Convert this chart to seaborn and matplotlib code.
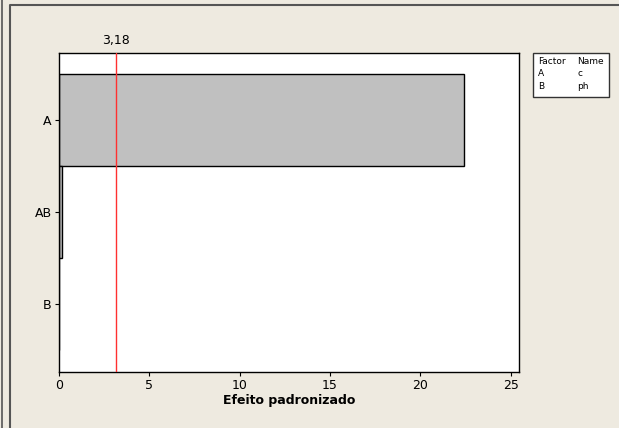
import matplotlib
matplotlib.use("Agg")
import matplotlib.pyplot as plt
import seaborn as sns
import pandas as pd
from matplotlib.lines import Line2D
from matplotlib.patches import Rectangle

# Standardized effects (Pareto chart)
terms = ["A", "AB", "B"]
effects = [22.4, 0.18, 0.02]
critical_value = 3.18
factor_codes = ["A", "B"]
factor_names = ["c", "ph"]

df = pd.DataFrame({"Termo": terms, "Efeito": effects})

sns.set_theme(style="white")
plt.rcParams["font.family"] = ["DejaVu Sans"]

bg = "#EEEAE0"
W, H = 619, 428
fig = plt.figure(figsize=(W / 100, H / 100), dpi=100, facecolor=bg)
ax = fig.add_axes([58.7 / W, 1 - 371.7 / H, (519 - 58.7) / W, (371.7 - 52.7) / H])
ax.set_facecolor("white")

sns.barplot(data=df, x="Efeito", y="Termo", order=terms, orient="h",
            color="#C0C0C0", saturation=1, width=1.0,
            edgecolor="black", linewidth=1.0, ax=ax)

ax.set_xlim(0, 25.45)
ax.set_ylim(2.73, -0.73)
ax.set_xticks([0, 5, 10, 15, 20, 25])
ax.set_xlabel("Efeito padronizado", fontsize=9, fontweight="bold", color="black", labelpad=2)
ax.set_ylabel("")
ax.tick_params(axis="both", labelsize=9, colors="black", length=3, width=0.8,
               direction="out", pad=2, bottom=True, left=True)

for side in ["left", "bottom", "top", "right"]:
    ax.spines[side].set_visible(True)
    ax.spines[side].set_color("black")
    ax.spines[side].set_linewidth(1.0)

# critical t-value reference line
ax.axvline(critical_value, color="#FF3030", linewidth=1.0, zorder=3)
ax.text(critical_value, 1.018, f"{critical_value:.2f}".replace(".", ","),
        transform=ax.get_xaxis_transform(), ha="center", va="bottom",
        fontsize=9, color="black")

# factor key box
fig.add_artist(Rectangle((533 / W, 1 - 97 / H), (609 - 533) / W, (97 - 53) / H,
                         transform=fig.transFigure, facecolor="white",
                         edgecolor="#333333", linewidth=1.0))
rows = [("Factor", "Name")] + list(zip(factor_codes, factor_names))
for i, (code, name) in enumerate(rows):
    y = 1 - (61.5 + 12.3 * i) / H
    fig.text(538 / W, y, code, ha="left", va="center", fontsize=6.5, color="black")
    fig.text(577 / W, y, name, ha="left", va="center", fontsize=6.5, color="black")

# outer window frame lines
fig.add_artist(Line2D([2 / W, 2 / W], [0, 1], transform=fig.transFigure,
                      color="#555555", linewidth=1.2))
fig.add_artist(Line2D([9.5 / W, 9.5 / W, 1], [0, 1 - 4.5 / H, 1 - 4.5 / H],
                      transform=fig.transFigure, color="#555555", linewidth=1.5))

fig.savefig("out.png", dpi=100, facecolor=bg)
